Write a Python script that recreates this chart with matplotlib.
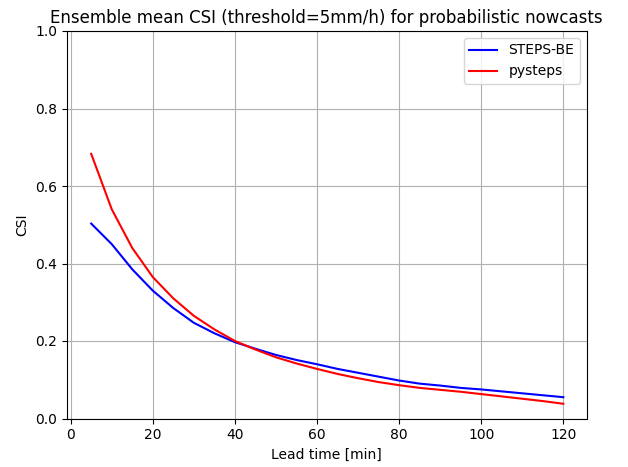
import matplotlib
matplotlib.use("Agg")
import matplotlib.pyplot as plt

lead_times = [5, 10, 15, 20, 25, 30, 35, 40, 45, 50, 55, 60, 65, 70, 75, 80,
              85, 90, 95, 100, 105, 110, 115, 120]
csi_steps_be = [0.503, 0.450, 0.385, 0.330, 0.285, 0.247, 0.220, 0.197, 0.180,
                0.164, 0.151, 0.140, 0.128, 0.118, 0.108, 0.098, 0.090, 0.085,
                0.079, 0.075, 0.070, 0.065, 0.060, 0.055]
csi_pysteps = [0.683, 0.540, 0.440, 0.365, 0.310, 0.265, 0.230, 0.200, 0.178,
               0.158, 0.142, 0.128, 0.115, 0.104, 0.094, 0.086, 0.079, 0.074,
               0.069, 0.063, 0.057, 0.051, 0.045, 0.038]

fig = plt.figure(figsize=(6.28, 4.67), dpi=100)
ax = fig.add_axes([66.7 / 628, 1 - 418.5 / 467, (586.7 - 66.7) / 628, (418.5 - 31) / 467])

ax.plot(lead_times, csi_steps_be, color="blue", label="STEPS-BE")
ax.plot(lead_times, csi_pysteps, color="red", label="pysteps")

ax.set_ylim(0, 1.0)
ax.set_xlim(-0.97, 125.7)
ax.set_xticks([0, 20, 40, 60, 80, 100, 120])
ax.grid(True)
ax.set_xlabel("Lead time [min]")
ax.set_ylabel("CSI")
ax.set_title("Ensemble mean CSI (threshold=5mm/h) for probabilistic nowcasts")
ax.legend(loc="upper right")

fig.savefig("out.png", dpi=100)
